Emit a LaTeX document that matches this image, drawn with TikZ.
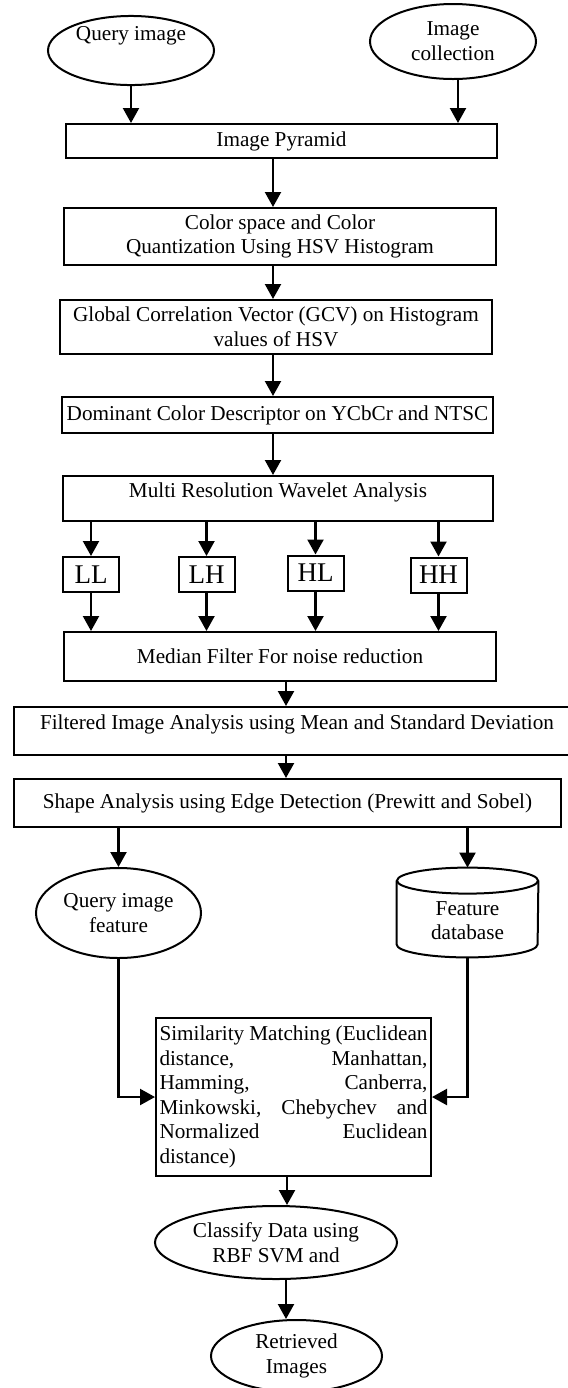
\documentclass[tikz,border=0pt]{standalone}
\usepackage{fontspec}
\setmainfont{Liberation Serif}
\usetikzlibrary{shapes.geometric,arrows.meta}
\begin{document}
\begin{tikzpicture}[x=0.5pt,y=-0.5pt,
  every node/.style={font=\fontsize{10.6pt}{12.4pt}\selectfont, inner sep=0pt},
  box/.style={draw, line width=1pt, rectangle, align=center},
  oval/.style={draw, line width=1pt, ellipse, align=center},
  band/.style={draw, line width=1pt, rectangle, font=\fontsize{13.5pt}{16pt}\selectfont},
  arr/.style={line width=1.1pt, -{Triangle[length=7.5pt,width=8pt]}},
  link/.style={line width=1pt}
]
\useasboundingbox (0,0) rectangle (568,1388);
\clip (0,0) rectangle (568,1388);

% inputs
\node[oval, minimum width=83pt, minimum height=30.5pt] (qimg) at (131,50.5) {Query image\\[5pt]\mbox{}};
\node[oval, minimum width=83pt, minimum height=37.5pt] (icoll) at (453,41.5) {Image\\collection};

% processing chain
\node[box, minimum width=215.5pt, minimum height=17pt] (pyr) at (281.5,141) {Image Pyramid};
\node[box, minimum width=216pt, minimum height=28.5pt] (color) at (280,236.5) {Color space and Color\\Quantization Using HSV Histogram};
\node[box, minimum width=216pt, minimum height=27pt] (gcv) at (276,327) {Global Correlation Vector (GCV) on Histogram\\values of HSV};
\node[box, minimum width=215.5pt, minimum height=18pt] (dom) at (277.5,415) {Dominant Color Descriptor on YCbCr and NTSC};
\node[box, minimum width=215pt, minimum height=22.5pt] (multi) at (278,498.5) {Multi Resolution Wavelet Analysis\\[-4pt]\mbox{}};

% wavelet sub-bands
\node[band, minimum width=28pt, minimum height=17.5pt] (LL) at (91,574.5) {LL};
\node[band, minimum width=28pt, minimum height=17.5pt] (LH) at (206.5,574.5) {LH};
\node[band, minimum width=28pt, minimum height=17.5pt] (HL) at (315.5,573) {HL};
\node[band, minimum width=28pt, minimum height=17.5pt] (HH) at (438.5,575) {HH};

\node[box, minimum width=216pt, minimum height=24.5pt] (median) at (280,656.5) {Median Filter For noise reduction};
\node[box, minimum width=283pt, minimum height=24pt] (filt) at (297,731) {Filtered Image Analysis using Mean and Standard Deviation\\[-3.5pt]\mbox{}};
\node[box, minimum width=273.5pt, minimum height=24pt] (shape) at (287.5,803) {Shape Analysis using Edge Detection (Prewitt and Sobel)};

% features
\node[oval, minimum width=82.5pt, minimum height=45pt] (qfeat) at (118.5,913) {Query image\\feature};
\node[minimum width=70.5pt, minimum height=44.5pt, align=center] (fdb) at (467.5,912.5) {\rule{0pt}{15pt}Feature\\database};
\draw[link] ([yshift=-6.5pt]fdb.north) ellipse [x radius=35.25pt, y radius=6.5pt];
\draw[link] ([yshift=-6.5pt]fdb.north west) -- ([yshift=6.5pt]fdb.south west)
  arc[start angle=180, end angle=360, x radius=35.25pt, y radius=6.5pt]
  -- ([yshift=-6.5pt]fdb.north east);

% matching and output
\node[box, minimum width=137.5pt, minimum height=79pt, inner sep=1.5pt, align=left, font=\fontsize{10.6pt}{12.25pt}\selectfont] (sim) at (293.5,1097) {%
\makebox[134pt][s]{Similarity Matching (Euclidean}\\
\makebox[134pt][s]{distance, \hfill Manhattan,}\\
\makebox[134pt][s]{Hamming, \hfill Canberra,}\\
\makebox[134pt][s]{Minkowski, \hfill Chebychev \hfill and}\\
\makebox[134pt][s]{Normalized \hfill Euclidean}\\
\makebox[134pt][l]{distance)}};
\node[oval, minimum width=121pt, minimum height=36.5pt] (classify) at (276,1242.5) {Classify Data using\\RBF SVM and};
\node[oval, minimum width=85.5pt, minimum height=36pt] (retr) at (296.5,1356) {Retrieved\\Images};

% connectors
\draw[arr] (qimg.south) -- (qimg.south |- pyr.north);
\draw[arr] (icoll.south -| 458,0) -- (pyr.north -| 458,0);
\draw[arr] (pyr.south -| 273,0) -- (color.north -| 273,0);
\draw[arr] (color.south -| 273,0) -- (gcv.north -| 273,0);
\draw[arr] (gcv.south -| 273,0) -- (dom.north -| 273,0);
\draw[arr] (dom.south -| 273,0) -- (multi.north -| 273,0);
\foreach \b in {LL,LH,HL,HH} {
  \draw[arr] (multi.south -| \b.north) -- (\b.north);
  \draw[arr] (\b.south) -- (\b.south |- median.north);
}
\draw[arr] (median.south -| 286,0) -- (filt.north -| 286,0);
\draw[arr] (filt.south -| 286,0) -- (shape.north -| 286,0);
\draw[arr] (shape.south -| qfeat.north) -- (qfeat.north);
\draw[arr] (shape.south -| fdb.north) -- (fdb.north);
\draw[arr] (qfeat.south) |- (sim.west);
\draw[arr] (fdb.south) |- (sim.east);
\draw[arr] (sim.south -| 287,0) -- (classify.north -| 287,0);
\draw[arr] (classify.south -| 286,0) -- (retr.north -| 286,0);
\end{tikzpicture}
\end{document}
